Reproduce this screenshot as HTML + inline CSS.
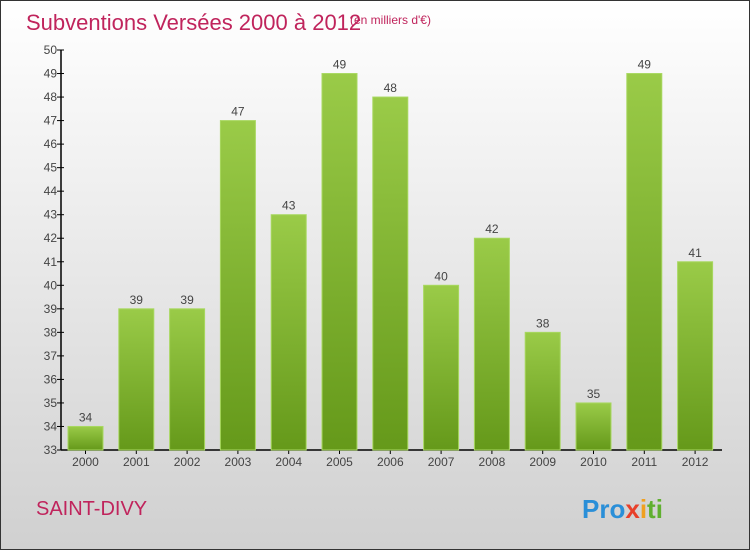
<!DOCTYPE html>
<html><head><meta charset="utf-8"><style>
html,body{margin:0;padding:0}
body{width:750px;height:550px;overflow:hidden;font-family:"Liberation Sans",sans-serif}
</style></head><body>
<svg width="750" height="550" xmlns="http://www.w3.org/2000/svg">
<defs>
<linearGradient id="bg" x1="0" y1="0" x2="0" y2="1"><stop offset="0" stop-color="#ffffff"/><stop offset="1" stop-color="#d0d0d0"/></linearGradient>
<linearGradient id="bar" x1="0" y1="0" x2="0" y2="1"><stop offset="0" stop-color="#9acb48"/><stop offset="1" stop-color="#65991a"/></linearGradient>
</defs>
<rect x="0.5" y="0.5" width="749" height="549" fill="url(#bg)" stroke="#333"/>
<text x="26" y="30" font-size="22" fill="#c0245c">Subventions Versées 2000 à 2012</text>
<text x="350" y="24" font-size="12" fill="#c0245c">(en milliers d'€)</text>
<g id="axes"></g>
<g id="bars"></g>
<text x="36" y="515" font-size="20" fill="#c0245c">SAINT-DIVY</text>
<text x="582" y="518" font-size="26" font-weight="bold"><tspan fill="#2a8fd8">Pro</tspan><tspan fill="#e8402a">x</tspan><tspan fill="#f0a020">i</tspan><tspan fill="#60b030">ti</tspan></text>
</svg>
<script>
const years=["2000","2001","2002","2003","2004","2005","2006","2007","2008","2009","2010","2011","2012"];
const values=[34,39,39,47,43,49,48,40,42,38,35,49,41];
const yTicks=[33,34,35,36,37,38,39,40,41,42,43,44,45,46,47,48,49,50];
const NS="http://www.w3.org/2000/svg";
const x0=61,x1=722,yTop=50,yBot=450,vMin=33,vMax=50;
const y=v=>yBot-(v-vMin)/(vMax-vMin)*(yBot-yTop);
const step=50.8,first=85.5,bw=35;
const xc=i=>first+i*step;
function mk(t,a,p){const e=document.createElementNS(NS,t);for(const k in a)e.setAttribute(k,a[k]);p.appendChild(e);return e;}
const ax=document.getElementById('axes'),bg=document.getElementById('bars');
let l=mk('line',{x1:x0,y1:yTop,x2:x0,y2:yBot,stroke:'#000','stroke-width':1.5},ax);


l=mk('line',{x1:x0,y1:yBot,x2:x1,y2:yBot,stroke:'#000','stroke-width':1.5},ax);


yTicks.forEach(v=>{
 const tk=mk('line',{x1:x0-4,y1:y(v),x2:x0+3,y2:y(v),stroke:'#000'},ax);
 
 
 const t=mk('text',{x:x0-4,y:y(v)+4,'font-size':12,fill:'#444','text-anchor':'end'},ax);
 t.textContent=v;
 
 
});
years.forEach((yr,i)=>{
 const v=values[i];
 const r=mk('rect',{x:xc(i)-bw/2,y:y(v),width:bw,height:yBot-y(v),fill:'url(#bar)',stroke:'#a8d860','stroke-width':1},bg);
 
 
 const t=mk('text',{x:xc(i),y:y(v)-5,'font-size':12,fill:'#444','text-anchor':'middle'},bg);
 t.textContent=v;
 
 
 const tk=mk('line',{x1:xc(i),y1:yBot,x2:xc(i),y2:yBot+4,stroke:'#000'},ax);
 
 
 const xl=mk('text',{x:xc(i),y:yBot+16,'font-size':12,fill:'#444','text-anchor':'middle'},ax);
 xl.textContent=yr;
 
 
});
</script>
</body></html>
